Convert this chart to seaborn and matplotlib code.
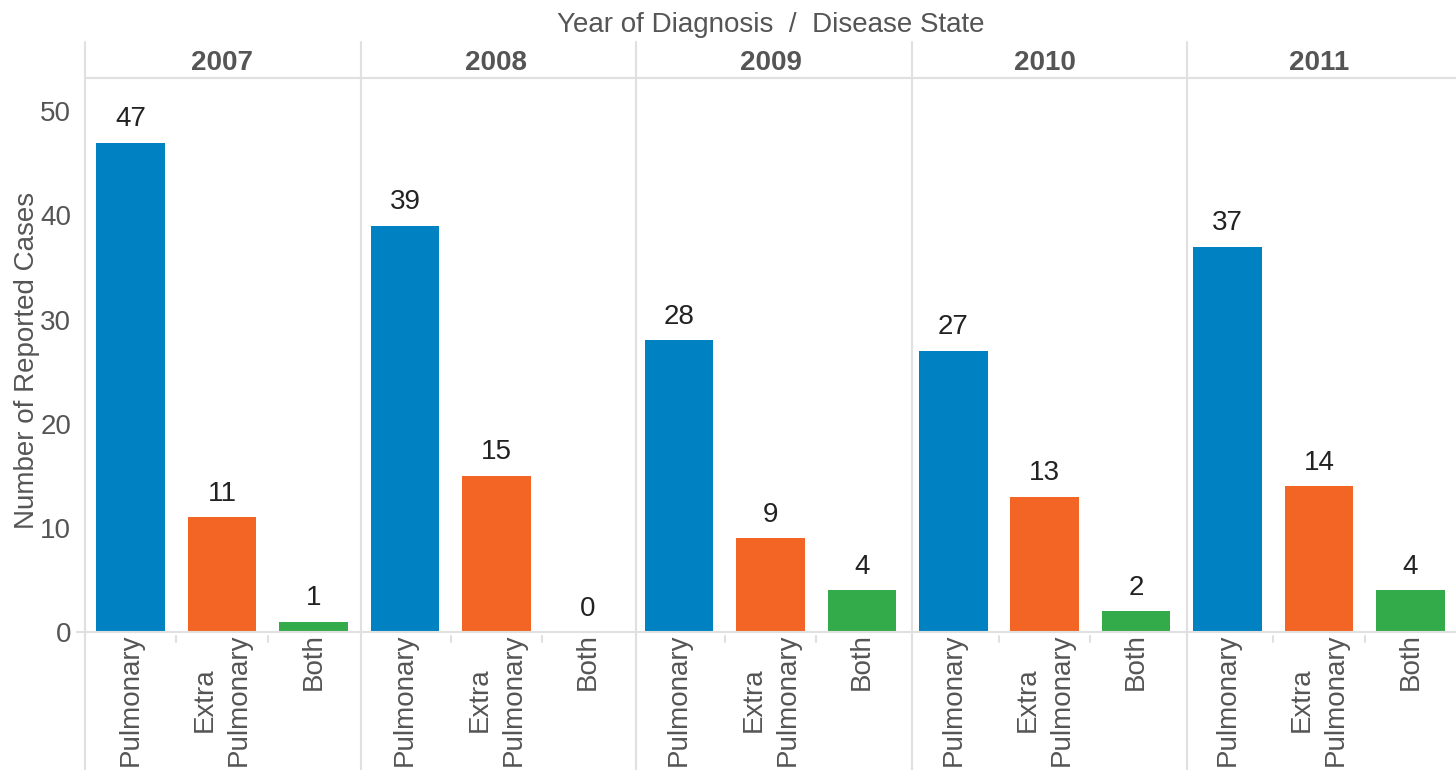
import pandas as pd
import matplotlib.pyplot as plt
import seaborn as sns
from matplotlib.lines import Line2D

# data
years = ['2007', '2008', '2009', '2010', '2011']
states = ['Pulmonary', 'Extra\nPulmonary', 'Both']
pulmonary = [47, 39, 28, 27, 37]
extra_pulmonary = [11, 15, 9, 13, 14]
both = [1, 0, 4, 2, 4]

colors = ['#0081C2', '#F26524', '#33AB4A']
grid_col = '#E0E0E0'
text_col = '#555555'
fs = 20

rows = []
for i, y in enumerate(years):
    rows.append((y, states[0], pulmonary[i]))
    rows.append((y, states[1], extra_pulmonary[i]))
    rows.append((y, states[2], both[i]))
data = pd.DataFrame(rows, columns=['year', 'state', 'cases'])

sns.set_style('white')
plt.rcParams['font.family'] = ['Liberation Sans', 'DejaVu Sans']

W, H = 1456, 770
fig, axes = plt.subplots(1, 5, figsize=(W / 100, H / 100), dpi=100, sharey=True)
left, right = 85 / W, 1.0
bottom, top = 1 - 632 / H, 1 - 78 / H
fig.subplots_adjust(left=left, right=right, bottom=bottom, top=top, wspace=0)

for ax, y in zip(axes, years):
    d = data[data['year'] == y]
    sns.barplot(data=d, x='state', y='cases', hue='state', order=states,
                hue_order=states, palette=colors, width=0.75, legend=False,
                saturation=1, linewidth=0, ax=ax)
    ax.set_xlim(-0.5, 2.5)
    ax.set_ylim(0, 53.2)
    for i, v in enumerate(d['cases']):
        ax.annotate(str(v), (i, v), xytext=(0, 7.5), textcoords='offset points',
                    ha='center', va='bottom', fontsize=fs, color='#222222')
    for s in ['left', 'right', 'bottom']:
        ax.spines[s].set_visible(False)
    ax.spines['top'].set_color(grid_col)
    ax.spines['top'].set_linewidth(1.5)
    ax.set_xlabel('')
    ax.set_ylabel('')
    ax.set_xticks(range(3))
    ax.set_xticklabels(states, rotation=90, fontsize=fs, color=text_col,
                       va='top', ha='center', linespacing=1.4)
    ax.tick_params(axis='x', length=0, pad=1)
    # small tick marks between categories
    for xb in [0.5, 1.5]:
        ax.plot([xb, xb], [-0.4, -1.0], color=grid_col, lw=1.5, clip_on=False)
    ax.set_title(y, fontsize=fs, fontweight='bold', color=text_col, pad=6)

axes[0].set_yticks(range(0, 51, 10))
axes[0].tick_params(axis='y', length=7, width=1.2, color=grid_col,
                    labelsize=fs, labelcolor=text_col, pad=3)
for ax in axes[1:]:
    ax.tick_params(axis='y', length=0)
axes[0].set_ylabel('Number of Reported Cases', fontsize=fs, color=text_col)
axes[0].yaxis.set_label_coords(-0.163, 0.49)

# panel dividers and baseline
for k in range(5):
    x = (85 + k * 275.6) / W
    fig.add_artist(Line2D([x, x], [0, 1 - 42 / H], color=grid_col, lw=1.5,
                          transform=fig.transFigure))
fig.add_artist(Line2D([77 / W, 1], [bottom, bottom], color=grid_col, lw=1.5,
                      transform=fig.transFigure))

fig.text((left + right) / 2, 1 - 25 / H, 'Year of Diagnosis  /  Disease State',
         ha='center', va='center', fontsize=fs, color=text_col)

plt.savefig('out.png', dpi=100)
